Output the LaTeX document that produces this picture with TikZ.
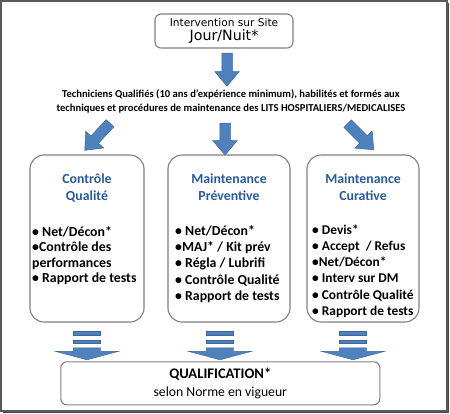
\documentclass[tikz,border=0pt]{standalone}
\usepackage{fontspec}
\setmainfont{Carlito}
\newfontfamily\dejavu{DejaVu Sans}
\usetikzlibrary{shapes.arrows,positioning}
\definecolor{QualBlue}{HTML}{4F81BD}
\definecolor{QualEdge}{HTML}{3B6696}
\definecolor{QualTitle}{HTML}{2A5A96}
\definecolor{QualLine}{HTML}{7F7F7F}
\definecolor{QualFrame}{HTML}{5A5A5A}
\tikzset{
  panel/.style={rounded corners=14pt, draw=QualLine, line width=1.1pt, minimum height=167pt, inner sep=0pt},
  card/.style={rounded corners=6pt, draw=QualLine, line width=1.1pt, inner sep=0pt, align=center},
  bigarrow/.style={single arrow, fill=QualBlue, draw=QualEdge, line width=0.5pt, inner xsep=0pt,
                   inner ysep=5pt, single arrow head extend=7pt, single arrow tip angle=80, minimum height=33pt},
  stripe/.style={fill=QualBlue, draw=QualEdge, line width=0.4pt, minimum width=27pt, minimum height=3.3pt, inner sep=0pt},
  flatarrow/.style={single arrow, fill=QualBlue, draw=QualEdge, line width=0.4pt, inner xsep=0pt, inner ysep=13.5pt,
                    single arrow head extend=18pt, single arrow tip angle=150, minimum height=12pt, rotate=-90},
  title/.style={font=\fontsize{13.8}{17}\selectfont\bfseries, text=QualTitle, align=center, inner sep=0pt},
  items/.style={font=\fontsize{13.8}{16.2}\selectfont\bfseries, align=left, inner sep=0pt, anchor=north west},
}
\begin{document}
\begin{tikzpicture}[x=1pt,y=1pt]
  \useasboundingbox (0,0) rectangle (450,-413);
  % outer frame with shadow
  \draw[QualFrame, line width=1.5pt] (1,-1) rectangle (447,-411);
  \draw[QualFrame!80!black, line width=1.5pt] (448.5,-3) -- (448.5,-412.5) -- (3,-412.5);

  \node[card, minimum width=138pt, minimum height=34pt, font=\dejavu\fontsize{10.6}{14}\selectfont] (site) at (224,-31)
    {Intervention sur Site\\{\fontsize{14.2}{14}\selectfont Jour/Nuit*}};
  \node[bigarrow, rotate=-90] (down) at (227,-66.5) {};
  \node[font=\fontsize{10.6}{14}\selectfont\bfseries, align=center] (tech) at (231,-101.5)
    {Techniciens Qualifiés (10 ans d’expérience minimum), habilités et formés aux\\
     techniques et procédures de maintenance des LITS HOSPITALIERS/MEDICALISES};
  \node[bigarrow, rotate=-133, minimum height=37pt] (toleft) at (99.5,-134.5) {};
  \node[bigarrow, rotate=-90, minimum height=32pt] (tomid) at (225,-136) {};
  \node[bigarrow, rotate=-45, minimum height=37pt] (toright) at (358.5,-134.5) {};

  % three branches
  \node[panel, minimum width=114pt] (cq) at (87,-238.5) {};
  \node[panel, minimum width=122pt] (prev) at (229,-238.5) {};
  \node[panel, minimum width=112pt] (cur) at (363,-238.5) {};
  \node[title, below=19pt of cq.north] (cqt) {Contrôle\\Qualité};
  \node[title, below=19pt of prev.north] (prevt) {Maintenance\\Préventive};
  \node[title, below=19pt of cur.north] (curt) {Maintenance\\Curative};
  \node[items, font=\fontsize{13.8}{15.3}\selectfont\bfseries] (cql) at (32,-226.5)
    {• Net/Décon*\\•Contrôle des\\performances\\• Rapport de tests};
  \node[items] (prevl) at (175,-225.5)
    {• Net/Décon*\\•MAJ* / Kit prév\\• Régla / Lubrifi\\• Contrôle Qualité\\• Rapport de tests};
  \node[items, font=\fontsize{13.4}{16.2}\selectfont\bfseries] (curl) at (312,-224.5)
    {• Devis*\\• Accept~ / Refus\\•Net/Décon*\\• Interv sur DM\\• Contrôle Qualité\\• Rapport de tests};

  % striped arrows
  \node[stripe] (cqa) at (87,-333.3) {};
  \node[stripe] (cqb) at (87,-341.7) {};
  \node[flatarrow] (cqc) at (87,-352) {};
  \node[stripe] (preva) at (220,-333.3) {};
  \node[stripe] (prevb) at (220,-341.7) {};
  \node[flatarrow] (prevc) at (220,-352) {};
  \node[stripe] (cura) at (353,-333.3) {};
  \node[stripe] (curb) at (353,-341.7) {};
  \node[flatarrow] (curc) at (353,-352) {};

  \node[card, minimum width=319pt, minimum height=43pt, font=\fontsize{13.7}{16.7}\selectfont] (qual) at (220.3,-383.3)
    {{\fontsize{14.6}{16.7}\selectfont\bfseries QUALIFICATION*}\\[1pt]selon Norme en vigueur};
\end{tikzpicture}
\end{document}
